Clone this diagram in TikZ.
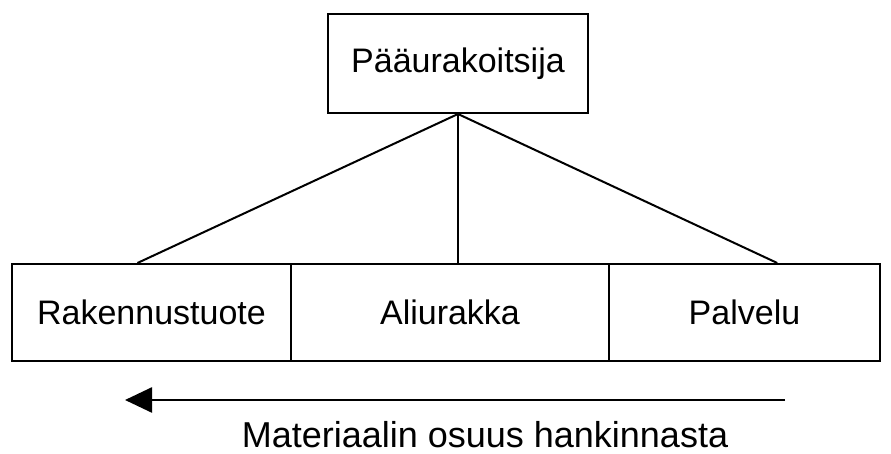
\documentclass[tikz,border=0pt]{standalone}
\usepackage{fontspec}
\setmainfont{Liberation Sans}
\usetikzlibrary{arrows.meta,calc}
\begin{document}
\begin{tikzpicture}[x=0.5pt,y=-0.5pt,line width=1pt,
box/.style={draw,minimum height=48.5pt,inner sep=0pt,font=\fontsize{17}{20}\selectfont}]
\useasboundingbox(0,0)rectangle(891,454);
\node[box,minimum width=130pt,minimum height=49.5pt](main)at(458,63.5){Pääurakoitsija};
\node[box,minimum width=139.5pt](prod)at(151.5,312.5){Rakennustuote};
\node[box,minimum width=159pt](sub)at(450,312.5){Aliurakka};
\node[box,minimum width=135.5pt](serv)at(744.5,312.5){Palvelu};
\draw(main.south)--($(prod.north west)!.45!(prod.north east)$);
\draw(main.south)--(main.south|-sub.north);
\draw(main.south)--($(serv.north west)!.62!(serv.north east)$);
\coordinate(from)at(785,400);
\coordinate(to)at(125,400);
\draw[line width=1.3pt,-{Triangle[length=13.5pt,width=12.5pt]}](from)--(to);
\node[font=\fontsize{18}{21}\selectfont,inner sep=0pt,anchor=base](share)at(485,448){Materiaalin osuus hankinnasta};
\end{tikzpicture}
\end{document}
